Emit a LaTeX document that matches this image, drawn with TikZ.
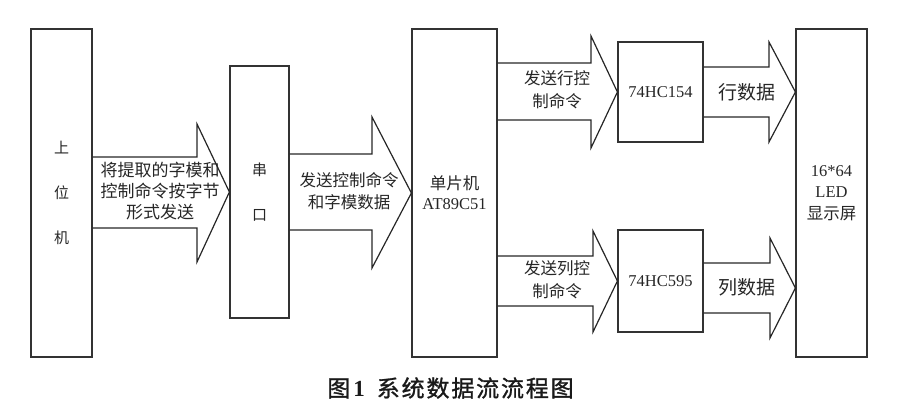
\documentclass[tikz,border=0pt]{standalone}
\usepackage{fontspec}
\setmainfont{Liberation Serif}
\newfontfamily\cjk{Noto Sans CJK SC}
\newfontfamily\cjkcap[LetterSpace=8, FakeBold=1.2]{Noto Sans CJK SC}
\usetikzlibrary{calc}
\tikzset{
	blk/.style={draw=black!80, line width=1.2pt, fill=white, inner sep=0pt, align=center, text=black!85},
	fat/.style={draw=black!85, line width=1.2pt, line join=miter},
	lbl/.style={inner sep=0pt, align=center, text=black!85, font=\cjk\fontsize{16.5}{22}\selectfont}
}

\begin{document}
\begin{tikzpicture}[x=1pt, y=-1pt]
			\useasboundingbox (0, 0) rectangle (900, 416);

			% boxes
			\node[blk, minimum width=61pt, minimum height=328pt, font=\cjk\fontsize{15}{45}\selectfont]	(pc) at (61.5, 193) {上\\位\\机};
			\node[blk, minimum width=59pt, minimum height=252pt, font=\cjk\fontsize{15}{45}\selectfont]	(ser) at (259.5, 192) {串\\口};
			\node[blk, minimum width=85pt, minimum height=328pt, font=\fontsize{16.5}{20}\selectfont]	(mcu) at (454.5, 193) {{\cjk 单片机}\\AT89C51};
			\node[blk, minimum width=85pt, minimum height=100pt, font=\fontsize{16.5}{20}\selectfont]	(hc154) at (660.5, 92) {74HC154};
			\node[blk, minimum width=85pt, minimum height=102pt, font=\fontsize{16.5}{20}\selectfont]	(hc595) at (660.5, 281) {74HC595};
			\node[blk, minimum width=71pt, minimum height=328pt, font=\fontsize{16.5}{21.5}\selectfont]	(led) at (831.5, 193) {16*64\\LED\\{\cjk 显示屏}};

			% fat arrows
			\draw[fat]	(pc.east |- 0, 157) -- (197, 157) -- (197, 124) -- (ser.west)
						-- (197, 262) -- (197, 228) -- (pc.east |- 0, 228);
			\draw[fat]	(ser.east |- 0, 154) -- (372, 154) -- (372, 117) -- (mcu.west)
						-- (372, 268) -- (372, 230) -- (ser.east |- 0, 230);
			\draw[fat]	(mcu.east |- 0, 63) -- (591, 63) -- (591, 36) -- (hc154.west)
						-- (591, 148) -- (591, 120) -- (mcu.east |- 0, 120);
			\draw[fat]	(mcu.east |- 0, 256) -- (593, 256) -- (593, 231) -- (hc595.west)
						-- (593, 332) -- (593, 306) -- (mcu.east |- 0, 306);
			\draw[fat]	(hc154.east |- 0, 67) -- (769, 67) -- (769, 42) -- (led.west |- hc154)
						-- (769, 142) -- (769, 117) -- (hc154.east |- 0, 117);
			\draw[fat]	(hc595.east |- 0, 263) -- (770, 263) -- (770, 238) -- (led.west |- 0, 288)
						-- (770, 338) -- (770, 313) -- (hc595.east |- 0, 313);

			% arrow texts
			\node[lbl, font=\cjk\fontsize{17}{21}\selectfont]	(send) at (160, 191) {将提取的字模和\\控制命令按字节\\形式发送};
			\node[lbl]	(cmd) at (349, 191) {发送控制命令\\和字模数据};
			\node[lbl, font=\cjk\fontsize{16.5}{23}\selectfont]	(rowcmd) at (557, 90) {发送行控\\制命令};
			\node[lbl, font=\cjk\fontsize{16.5}{23}\selectfont]	(colcmd) at (557, 280) {发送列控\\制命令};
			\node[lbl, font=\cjk\fontsize{19}{22}\selectfont]	(row) at (747, 92) {行数据};
			\node[lbl, font=\cjk\fontsize{19}{22}\selectfont]	(col) at (747, 287) {列数据};

			% caption
			\node[inner sep=0pt, text=black!90, font=\cjkcap\fontsize{23}{26}\selectfont]	(cap) at (450.5, 388) {图\hspace{3pt}{\rmfamily\bfseries 1}\hspace{12pt}系统数据流流程图};
		\end{tikzpicture}
\end{document}
